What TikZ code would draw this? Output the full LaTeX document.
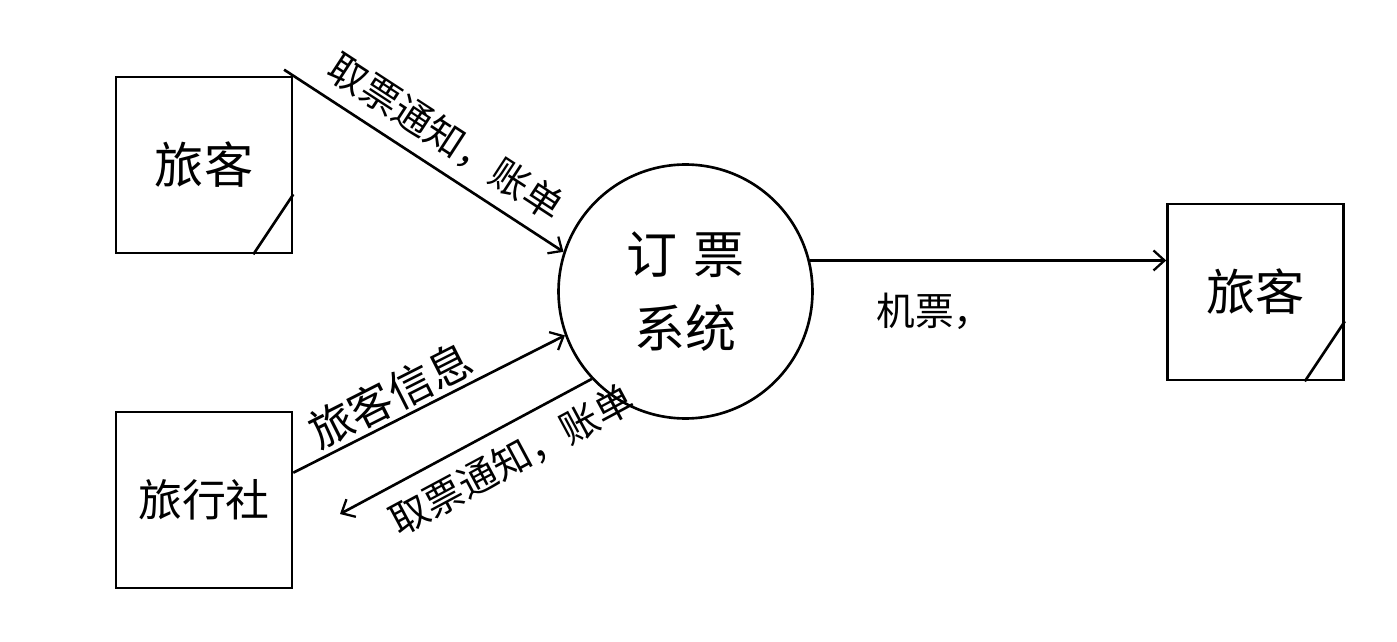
\documentclass[tikz,border=0pt]{standalone}
\usepackage{fontspec}
\setmainfont{Noto Sans CJK SC}
\usepackage{tikz}
\usetikzlibrary{arrows.meta,calc}

\begin{document}
\begin{tikzpicture}[x=0.02cm,y=-0.02cm]
			\tikzstyle{entity} = [draw, line width=1.5pt, minimum size=3.52cm, inner sep=0pt]
			\tikzstyle{process} = [draw, circle, line width=1.5pt, minimum size=5.08cm, inner sep=0pt, align=center, font=\fontsize{29}{42}\selectfont]
			\tikzstyle{flowtext} = [font=\fontsize{22}{26}\selectfont, inner sep=2pt]
			\tikzset{flow/.style = {line width=1.5pt, -{Straight Barb[length=0.22cm, width=0.4cm, line width=1.3pt]}}}
			\useasboundingbox (0,0) rectangle (1397,642);
			
			\node[entity, font=\fontsize{28}{32}\selectfont](passenger1) at (204,165) {旅客};
			\node[entity, font=\fontsize{25}{30}\selectfont](agency) at (204,500) {旅行社};
			\node[entity, font=\fontsize{28}{32}\selectfont](passenger2) at (1255.5,292) {旅客};
			\node[process](system) at (685.5,291.5) {订\,\,票\\系统};
			
			\draw[line width=1.5pt] ($(passenger1.south east)+(-40,0)$) -- ($(passenger1.south east)+(0,-60)$);
			\draw[line width=1.5pt] ($(passenger2.south east)+(-40,0)$) -- ($(passenger2.south east)+(0,-60)$);
			
			\coordinate (back) at (340,514);
			\draw[flow, shorten <=-0.22cm](passenger1.north east) to node[flowtext, sloped, above, pos=0.5, yshift=5pt]{取票通知，账单} (system.162);
			\draw[flow](agency.17) to node[flowtext, sloped, above, pos=0.4, font=\fontsize{25}{30}\selectfont]{旅客信息} (system.200);
			\draw[flow](system.223) to node[flowtext, sloped, below, pos=0.38, yshift=-6pt]{取票通知，账单} (back);
			\draw[flow](system.14) to node[flowtext, below=0.55cm, pos=0.35]{机票，} (system.14 -| passenger2.west);
			
			\end{tikzpicture}
\end{document}
